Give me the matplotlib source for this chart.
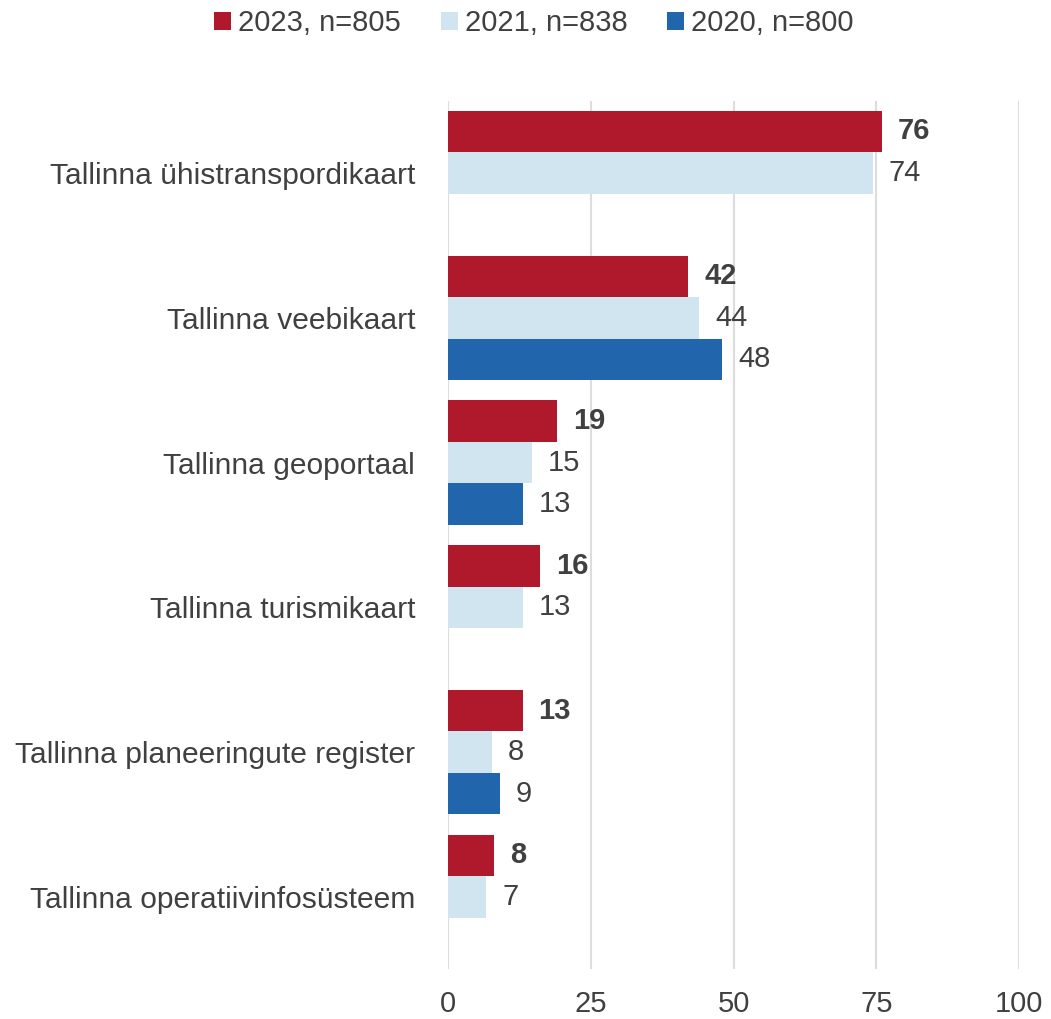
import matplotlib
matplotlib.use("Agg")
import matplotlib.pyplot as plt
import numpy as np

categories = ["Tallinna ühistranspordikaart", "Tallinna veebikaart", "Tallinna geoportaal",
              "Tallinna turismikaart", "Tallinna planeeringute register", "Tallinna operatiivinfosüsteem"]
series_names = ["2023, n=805", "2021, n=838", "2020, n=800"]
v2023 = [76, 42, 19, 16, 13, 8]
v2021 = [74.4, 44, 14.6, 13, 7.6, 6.6]
v2020 = [np.nan, 48, 13, np.nan, 9, np.nan]
colors = ["#B0182C", "#D1E5F0", "#2166AC"]
xticks = [0, 25, 50, 75, 100]

plt.rcParams['font.family'] = ['Liberation Sans', 'DejaVu Sans']
txt = "#404040"
fig = plt.figure(figsize=(10.51, 10.19), dpi=100)
ax = fig.add_axes([0.4266, 0.0487, 0.9696 - 0.4266, 0.9013 - 0.0487])

y = np.arange(len(categories))
h = 0.2866
all_series = [v2023, v2021, v2020]
handles = []
for i, (vals, c, name) in enumerate(zip(all_series, colors, series_names)):
    pos = y + (i - 1) * h
    b = ax.barh(pos, vals, height=h, color=c, label=name, edgecolor='none')
    handles.append(b)
    for p, v in zip(pos, vals):
        if np.isnan(v):
            continue
        ax.text(v + 2.8, p, f"{v:.0f}", va='center', ha='left', fontsize=21,
                color=txt, fontweight='bold' if i == 0 else 'normal')

ax.set_ylim(len(categories) - 0.5, -0.5)
ax.set_xlim(0, 100)
ax.set_yticks(y)
ax.set_yticklabels(categories, fontsize=21.6, color=txt)
ax.set_xticks(xticks)
ax.set_xticklabels([str(t) for t in xticks], fontsize=21, color=txt)
ax.tick_params(axis='y', length=0, pad=24)
ax.tick_params(axis='x', length=0, pad=15)
for s in ax.spines.values():
    s.set_visible(False)
ax.grid(axis='x', color='#DDDDDD', linewidth=1.5)
ax.set_axisbelow(True)

fig.legend(handles=handles, labels=series_names, loc='center', bbox_to_anchor=(0.508, 0.977),
           ncol=3, frameon=False, fontsize=21, handlelength=0.58, handleheight=0.58,
           handletextpad=0.24, columnspacing=1.37, labelcolor=txt)

fig.savefig("out.png", dpi=100)
